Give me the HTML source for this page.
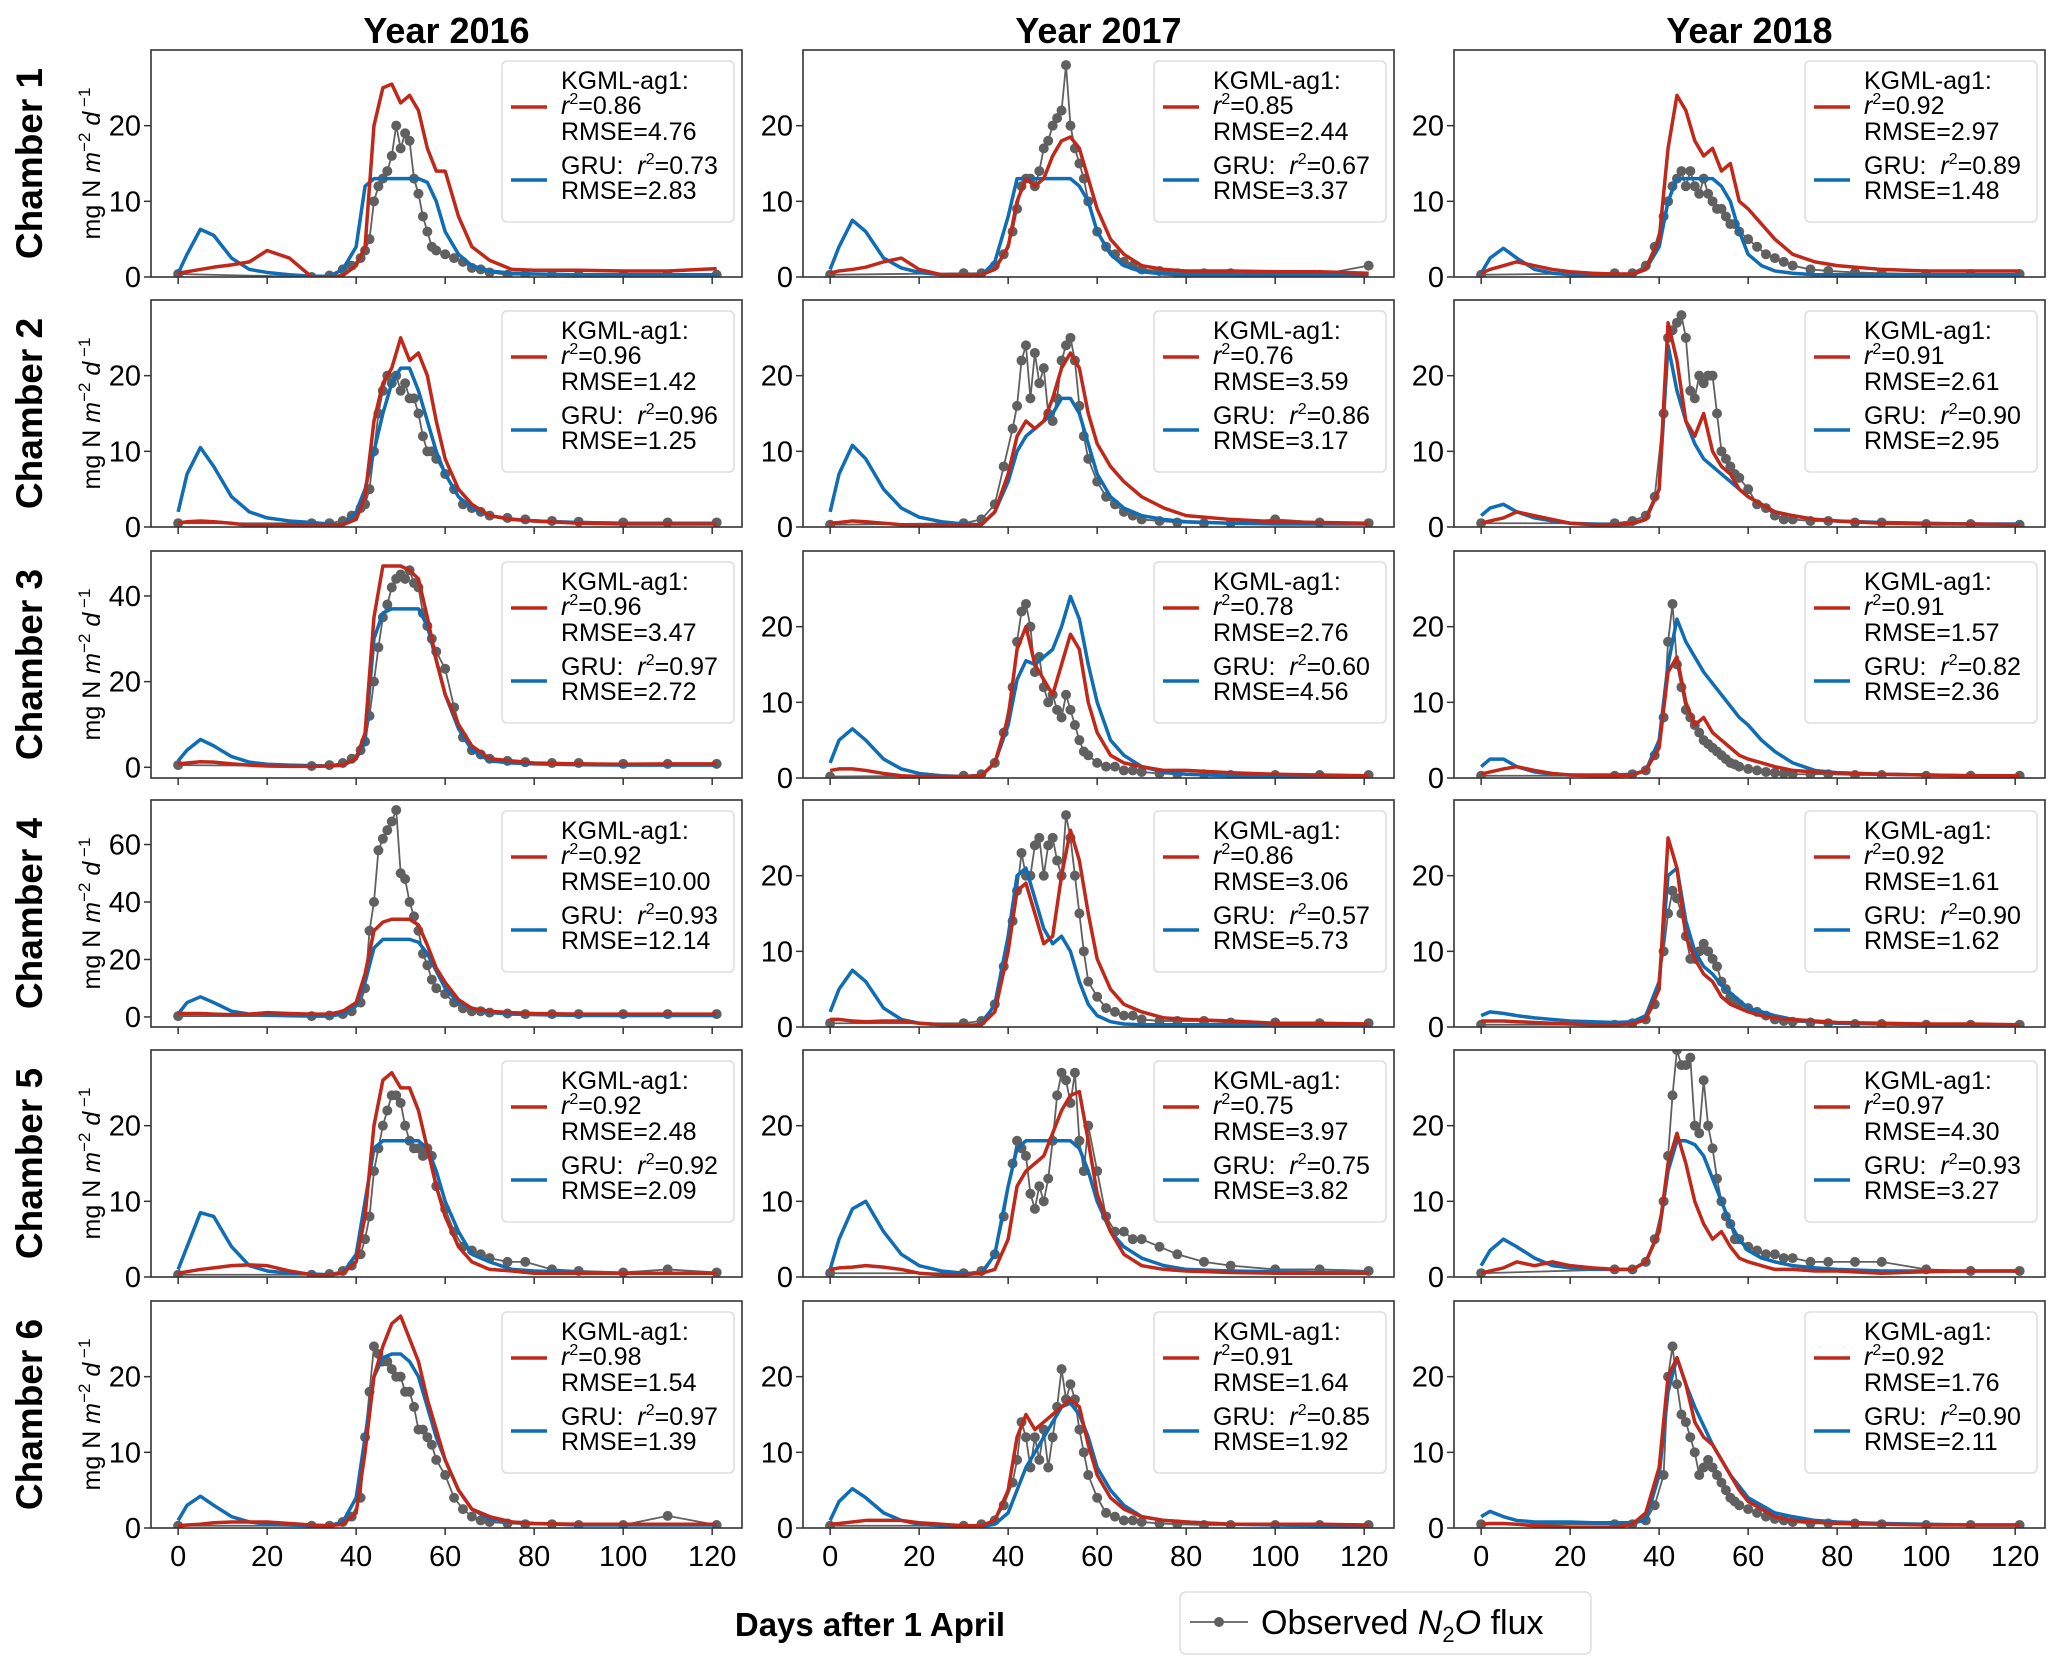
<!DOCTYPE html>
<html><head><meta charset="utf-8">
<style>
html,body{margin:0;padding:0;background:#fff;}
svg{display:block;font-family:"Liberation Sans","DejaVu Sans",sans-serif;}
</style></head>
<body>
<svg id="fig" width="2067" height="1674" viewBox="0 0 2067 1674" xmlns="http://www.w3.org/2000/svg">
<rect width="2067" height="1674" fill="#fff"/>
</svg>
<script>
// ---------- data ----------
const years = ["2016","2017","2018"];
const chambers = ["1","2","3","4","5","6"];
const xTicks = [0,20,40,60,80,100,120];
const modelDays = [0,2,5,8,12,16,20,25,30,34,37,40,42,44,46,48,50,52,54,56,58,60,63,66,70,75,80,90,100,110,121];
const obsDays = [0,30,34,37,39,41,42,43,44,45,46,47,48,49,50,51,52,53,54,55,56,57,58,60,62,64,66,68,70,74,78,84,90,100,110,121];

// Chamber 1
const kgml_c1_2016 = [0.5,0.7,1,1.3,1.6,2,3.5,2.5,0,0,0.2,1.5,4,20,25,25.5,23,24,22,17,14,14,8,4,2.2,1,0.9,0.9,0.8,0.8,1.1];
const gru_c1_2016 = [0.5,3,6.3,5.5,2.5,1,0.6,0.3,0.1,0.1,1,4,12,13,13,13,13,13,13,12.5,10,6,3,1.5,0.8,0.5,0.4,0.3,0.3,0.3,0.3];
const obs_c1_2016 = [0.4,0,0.2,1,1.5,2.5,3.5,5,10,12,13,14,16,20,17,19,18,13,11,8,6,4,3.5,3,2.5,2,1.2,1,0.6,0.3,0.3,0.3,0.3,0.3,0.3,0.3];
const kgml_c1_2017 = [0.5,0.8,1,1.3,2,2.5,1,0.3,0.2,0.3,1,4,10,13,12,13,16,18,18.5,17,13,9,5,3,1.5,1,0.8,0.8,0.7,0.7,0.5];
const gru_c1_2017 = [1,4,7.5,6,2.5,1.2,0.6,0.3,0.2,0.2,2,8,13,13,13,13,13,13,13,12,10,6,3,1.5,0.7,0.4,0.3,0.3,0.3,0.3,0.3];
const obs_c1_2017 = [0.3,0.5,0.5,1.5,3,6,9,12,13,13,12,14,17,18,20,21,22,28,20,17,15,13,10,6,4,3,2,1.5,1,0.8,0.5,0.5,0.5,0.3,0.3,1.5];
const kgml_c1_2018 = [0.5,1,1.5,2,1.5,1,0.7,0.5,0.4,0.4,1,5,17,24,22,18,16,17,14,15,10,9,7,5,3,2,1.5,1,0.8,0.8,0.8];
const gru_c1_2018 = [0.5,2.5,3.8,2.5,1,0.5,0.3,0.2,0.2,0.3,1,4,10,13,13,13,13,13,12,10,6,3,1.5,0.8,0.5,0.3,0.3,0.3,0.3,0.3,0.3];
const obs_c1_2018 = [0.3,0.5,0.5,1.5,4,8,10,12,13,14,12,14,12,11,13,11,10,9,9,8,7,7,6,5,4,3,2.5,2,1.5,1,0.8,0.6,0.5,0.4,0.4,0.4];
// Chamber 2
const kgml_c2_2016 = [0.5,0.7,0.8,0.7,0.5,0.2,0.2,0.3,0.3,0.3,0.3,1,4,14,19,21,25,22,23,20,14,9,5,3,1.5,1,0.8,0.5,0.4,0.4,0.4];
const gru_c2_2016 = [2,7,10.5,8,4,2,1.2,0.8,0.6,0.4,0.2,2,5,10,15,19,21,21,18,14,10,7,4,2.5,1.5,1,0.8,0.6,0.5,0.5,0.5];
const obs_c2_2016 = [0.5,0.5,0.5,0.8,1.5,2.5,3,5,10,15,18,20,19,20,18,19,17,17,15,12,10,10,9,7,5,3,2.5,2,1.5,1.2,1,0.8,0.7,0.6,0.6,0.6];
const kgml_c2_2017 = [0.5,0.6,0.8,0.7,0.5,0.3,0.2,0.2,0.2,0.3,2,7,12,14,13,14,17,21,23,21,15,11,8,6,4,2.5,1.5,1,0.7,0.6,0.5];
const gru_c2_2017 = [2,7,10.8,9,5,2.5,1.3,0.7,0.4,0.3,2,6,10,12,13,14,15,17,17,15,11,7,4,2.5,1.5,1,0.7,0.5,0.4,0.4,0.4];
const obs_c2_2017 = [0.3,0.5,1,3,8,13,16,22,24,17,23,19,21,15,14,17,22,24,25,22,16,12,9,6,4,3,2,1.5,1,0.8,0.6,0.5,0.5,1,0.6,0.5];
const kgml_c2_2018 = [0.5,0.8,1.2,2,1.5,1,0.5,0.3,0.3,0.5,1,5,27,22,14,12,15,10,8,7,5,4,3,2,1.5,1,0.8,0.5,0.4,0.4,0.3];
const gru_c2_2018 = [1.5,2.5,3,2,1.2,0.8,0.5,0.4,0.3,0.4,1,5,24,18,14,11,9,8,7,6,5,4,3,2,1.5,1,0.8,0.6,0.5,0.4,0.4];
const obs_c2_2018 = [0.5,0.5,0.8,1.5,4,15,25,26,27,28,25,18,17,20,19,20,20,15,10,9,8,7,6.5,5,3,2.5,1.5,1,1,0.8,0.8,0.6,0.6,0.4,0.4,0.3];
// Chamber 3
const kgml_c3_2016 = [0.8,1,1.3,1.2,0.8,0.5,0.3,0.2,0.2,0.3,0.5,2,8,35,47,47,47,46,44,35,25,17,10,5,2,1.5,1,0.8,0.7,0.8,0.8];
const gru_c3_2016 = [1.5,4,6.5,5,2.5,1.2,0.7,0.5,0.4,0.3,0.5,2,6,30,36,37,37,37,37,33,25,17,9,4,1.5,1,0.8,0.6,0.5,0.5,0.5];
const obs_c3_2016 = [0.5,0.3,0.5,1,2,4,6,12,20,28,35,38,42,44,45,44,46,43,42,36,33,30,27,23,14,7,4,3,2,1.5,1.2,1,1,0.8,0.8,0.8];
const kgml_c3_2017 = [1,1.2,1.2,1,0.6,0.3,0.2,0.2,0.2,0.3,2,8,17,20,15,13,11,15,19,17,10,6,3,2,1.5,1,1,0.7,0.5,0.4,0.3];
const gru_c3_2017 = [2,5,6.5,5,2.5,1.2,0.6,0.3,0.2,0.3,2,7,13,15.5,15,16,17,20,24,21,15,10,5,3,1.5,0.8,0.5,0.3,0.3,0.3,0.3];
const obs_c3_2017 = [0.2,0.3,0.5,2,6,12,18,22,23,20,14,16,12,10,11,9,8,11,9,7,5,3.5,3,2,1.5,1.5,1,1,0.8,0.6,0.5,0.5,0.4,0.4,0.4,0.4];
const kgml_c3_2018 = [0.5,0.8,1.2,1.5,1,0.6,0.4,0.3,0.3,0.4,1,4,14,16,10,7,8,6,5,4,3,2.5,2,1.5,1,0.8,0.7,0.5,0.4,0.3,0.3];
const gru_c3_2018 = [1.5,2.5,2.5,1.5,0.8,0.5,0.4,0.4,0.4,0.5,1,5,15,21,18,16,14,12.5,11,9.5,8,7,5,3.5,2,1,0.7,0.5,0.4,0.3,0.3];
const obs_c3_2018 = [0.3,0.3,0.5,1,3,8,18,23,15,12,9,8,7,6,5,4.5,4,3.5,3,2.5,2,1.8,1.5,1.2,1,0.8,0.7,0.6,0.5,0.5,0.5,0.4,0.4,0.3,0.3,0.3];
// Chamber 4
const kgml_c4_2016 = [1.2,1.2,1.2,1,0.8,1,1.5,1.2,1,1,2,5,15,30,33,34,34,34,32,25,17,12,6,3,2,1.5,1.2,1,1,1,1];
const gru_c4_2016 = [1,5,7,5,2,1,0.6,0.4,0.3,0.3,1,4,12,24,27,27,27,27,26,22,16,10,5,3,1.5,1,0.8,0.5,0.5,0.5,0.5];
const obs_c4_2016 = [0.3,0.3,0.5,1,2,5,10,30,40,58,62,65,68,72,50,48,40,35,30,22,18,13,10,8,5,3,2,2,1.5,1.2,1,1,1,1,1,1];
const kgml_c4_2017 = [1,1,0.8,0.7,0.8,0.8,0.5,0.3,0.2,0.3,2,10,18,19,15,11,12,20,26,22,15,9,5,3,2,1.2,1,0.8,0.5,0.5,0.4];
const gru_c4_2017 = [2,5,7.5,6,2.5,1,0.5,0.3,0.2,0.3,3,12,20,21,17,13,11,12,10,6,3,1.5,0.7,0.4,0.3,0.3,0.3,0.3,0.3,0.3,0.3];
const obs_c4_2017 = [0.5,0.5,0.8,3,8,14,18,23,20,20,24,25,20,24,25,22,20,28,25,20,15,10,6,4,2.5,2,1.5,1.5,1,0.8,0.8,0.8,0.6,0.6,0.5,0.5];
const kgml_c4_2018 = [0.8,0.8,0.8,0.7,0.6,0.5,0.4,0.3,0.3,0.4,1,5,25,21,12,9,7,6,4,3,2.5,2,1.5,1.2,1,0.8,0.6,0.5,0.4,0.4,0.3];
const gru_c4_2018 = [1.5,2,1.8,1.5,1.2,1,0.8,0.7,0.6,0.7,1.5,6,20,21,14,10,8,7,5.5,4.5,3.5,2.5,2,1.5,1,0.7,0.5,0.4,0.3,0.3,0.3];
const obs_c4_2018 = [0.3,0.3,0.5,1,3,10,15,18,17,15,12,9,9,10,11,10,9,8,6,5,4,3.5,3,2.5,2,1.5,1,0.8,0.7,0.6,0.5,0.4,0.4,0.3,0.3,0.3];
// Chamber 5
const kgml_c5_2016 = [0.5,0.7,1,1.2,1.5,1.6,1.5,0.8,0.3,0.3,0.5,2,8,20,26,27,25,25,22,17,12,8,4,2,1,0.8,0.5,0.5,0.5,0.5,0.5];
const gru_c5_2016 = [1,4,8.5,8,4,1.5,0.8,0.5,0.4,0.3,0.5,3,10,17,18,18,18,18,18,17,14,10,6,3,2,1,0.8,0.6,0.5,0.5,0.5];
const obs_c5_2016 = [0.3,0.3,0.4,0.8,1.5,3,5,8,14,17,20,22,24,24,23,20,18,17,17,16,17,16,12,9,6,4,3.5,3,2.5,2,2,1,0.8,0.6,1,0.6];
const kgml_c5_2017 = [1,1.2,1.3,1.5,1.3,1,0.5,0.3,0.3,0.5,1,5,12,14,15,16,19,22,24,24.5,18,11,6,3,1.5,1,0.8,0.6,0.5,0.5,0.5];
const gru_c5_2017 = [1,5,9,10,6,3,1.5,0.8,0.5,0.4,3,12,17,18,18,18,18,18,18,17,14,10,6,4,2.5,1.5,1,0.8,0.7,0.6,0.6];
const obs_c5_2017 = [0.5,0.5,0.8,3,8,15,18,17,16,11,9,12,10,13,18,24,27,26,23,27,18,14,20,14,8,6,6,5,5,4,3,2,1.5,1,1,0.8];
const kgml_c5_2018 = [0.5,0.8,1.2,2,1.5,2,1.5,1.2,1,1,2,6,15,19,15,10,7,5,6,4,2.5,2,1.5,1,1,0.8,0.8,0.5,0.7,0.8,0.8];
const gru_c5_2018 = [1.5,3.5,5,4,2.5,1.5,1.2,1,1,1,2,6,14,18,18,17.5,16,13,10,7,5,3.5,2.5,2,1.5,1.2,1,0.8,0.8,0.8,0.8];
const obs_c5_2018 = [0.5,1,1,2,5,10,16,24,30,28,28,29,20,19,26,20,17,13,10,8,7,5,5,4,3.5,3,3,2.5,2.5,2,2,2,2,1,0.8,0.8];
// Chamber 6
const kgml_c6_2016 = [0.3,0.4,0.5,0.7,0.8,0.8,0.8,0.6,0.4,0.3,0.5,2,10,20,24,27,28,25,22,17,13,9,5,2.5,1.5,0.8,0.6,0.5,0.5,0.5,0.5];
const gru_c6_2016 = [1,3,4.2,3,1.5,0.8,0.5,0.4,0.3,0.3,0.8,4,12,20,22.5,23,23,22,20,16,12,9,5,2.5,1.2,0.8,0.6,0.4,0.4,0.4,0.4];
const obs_c6_2016 = [0.3,0.3,0.3,0.8,1.5,4,12,18,24,23,22,22,21,20,20,18,18,16,13,13,12,11,9,7,4,2.5,1.5,1,0.8,0.6,0.5,0.5,0.4,0.4,1.6,0.4];
const kgml_c6_2017 = [0.5,0.6,0.8,1,1,1,0.7,0.5,0.3,0.3,1,5,12,15,13,14,15,16,17,16,11,7,4,2.5,1.5,1,0.8,0.5,0.5,0.5,0.4];
const gru_c6_2017 = [1,3.5,5.2,4,2,1,0.5,0.3,0.2,0.2,0.5,2,5,8,10,12,14,16,16.5,15,12,8,5,3,1.5,1,0.8,0.5,0.4,0.3,0.3];
const obs_c6_2017 = [0.3,0.3,0.5,1,3,6,9,14,12,8,12,9,13,8,12,16,21,17,19,17,13,10,7,4,2,1.5,1,1,0.8,0.6,0.5,0.4,0.4,0.4,0.4,0.4];
const kgml_c6_2018 = [0.5,0.6,0.6,0.5,0.3,0.2,0.1,0.1,0.1,0.5,2,8,20,22.5,19,14,12,11,9,7,5,3.5,2.5,1.5,1,0.8,0.6,0.5,0.4,0.4,0.4];
const gru_c6_2018 = [1.5,2.2,1.5,1,0.8,0.8,0.8,0.7,0.7,0.7,1,7,18,22.5,19,16,13.5,11,9,7,5.5,4,3,2,1.5,1,0.8,0.6,0.5,0.4,0.4];
const obs_c6_2018 = [0.5,0.5,0.5,1,3,7,20,24,19,15,14,12,10,7,8,9,8,7,6,5,4,3.5,3,2.5,2,1.5,1.2,1,0.8,0.6,0.6,0.6,0.5,0.4,0.4,0.4];

// legend stats
const kgmlR2 = [["0.86","0.85","0.92"],["0.96","0.76","0.91"],["0.96","0.78","0.91"],["0.92","0.86","0.92"],["0.92","0.75","0.97"],["0.98","0.91","0.92"]];
const kgmlRMSE = [["4.76","2.44","2.97"],["1.42","3.59","2.61"],["3.47","2.76","1.57"],["10.00","3.06","1.61"],["2.48","3.97","4.30"],["1.54","1.64","1.76"]];
const gruR2 = [["0.73","0.67","0.89"],["0.96","0.86","0.90"],["0.97","0.60","0.82"],["0.93","0.57","0.90"],["0.92","0.75","0.93"],["0.97","0.85","0.90"]];
const gruRMSE = [["2.83","3.37","1.48"],["1.25","3.17","2.95"],["2.72","4.56","2.36"],["12.14","5.73","1.62"],["2.09","3.82","3.27"],["1.39","1.92","2.11"]];
// y-limits and ticks
const yMin = [[0,0,0],[0,0,0],[-2.5,0,0],[-3.5,0,0],[0,0,0],[0,0,0]];
const yMax = [[30,30,30],[30,30,30],[50.5,30,30],[75.5,30,30],[30,30,30],[30,30,30]];
const yTicks = [[[0,10,20],[0,10,20],[0,10,20]],[[0,10,20],[0,10,20],[0,10,20]],[[0,20,40],[0,10,20],[0,10,20]],[[0,20,40,60],[0,10,20],[0,10,20]],[[0,10,20],[0,10,20],[0,10,20]],[[0,10,20],[0,10,20],[0,10,20]]];

const series = {
 kgml:[[kgml_c1_2016,kgml_c1_2017,kgml_c1_2018],[kgml_c2_2016,kgml_c2_2017,kgml_c2_2018],[kgml_c3_2016,kgml_c3_2017,kgml_c3_2018],[kgml_c4_2016,kgml_c4_2017,kgml_c4_2018],[kgml_c5_2016,kgml_c5_2017,kgml_c5_2018],[kgml_c6_2016,kgml_c6_2017,kgml_c6_2018]],
 gru:[[gru_c1_2016,gru_c1_2017,gru_c1_2018],[gru_c2_2016,gru_c2_2017,gru_c2_2018],[gru_c3_2016,gru_c3_2017,gru_c3_2018],[gru_c4_2016,gru_c4_2017,gru_c4_2018],[gru_c5_2016,gru_c5_2017,gru_c5_2018],[gru_c6_2016,gru_c6_2017,gru_c6_2018]],
 obs:[[obs_c1_2016,obs_c1_2017,obs_c1_2018],[obs_c2_2016,obs_c2_2017,obs_c2_2018],[obs_c3_2016,obs_c3_2017,obs_c3_2018],[obs_c4_2016,obs_c4_2017,obs_c4_2018],[obs_c5_2016,obs_c5_2017,obs_c5_2018],[obs_c6_2016,obs_c6_2017,obs_c6_2018]]
};

// ---------- layout ----------
const NS = "http://www.w3.org/2000/svg";
const svg = document.getElementById("fig");
const colLeft = [151, 803, 1454];
const rowTop = [50, 300, 551, 800, 1050, 1301];
const PW = 591, PH = 227;
const XMIN = -6.1, XMAX = 126.7;
const RED = "#c0281a", BLUE = "#0f6db5", GRAY = "#606060";

function mk(tag, attrs, parent){
  const e = document.createElementNS(NS, tag);
  for (const k in attrs) e.setAttribute(k, attrs[k]);
  (parent||svg).appendChild(e);
  return e;
}
function xScale(c, d){ return colLeft[c] + (d - XMIN) / (XMAX - XMIN) * PW; }
function yScale(r, c, v){ return rowTop[r] + PH * (yMax[r][c] - v) / (yMax[r][c] - yMin[r][c]); }

years.forEach((y, c) => {
  const t = mk("text", {x: colLeft[c] + PW/2, y: 43, "text-anchor":"middle", "font-size":36, "font-weight":"bold"});
  
  
  t.textContent = "Year " + y;
});

for (let r = 0; r < 6; r++) {
  const cy = rowTop[r] + PH/2;
  const cl = mk("text", {x: 0, y: 0, transform: `translate(42 ${cy}) rotate(-90)`, "text-anchor":"middle", "font-size":37, "font-weight":"bold"});
  
  
  cl.textContent = "Chamber " + chambers[r];
  const yl = mk("text", {x: 0, y: 0, transform: `translate(100 ${cy}) rotate(-90)`, "text-anchor":"middle", "font-size":25});
  
  
  yl.innerHTML = 'mg N <tspan font-style="italic">m</tspan><tspan dy="-10" font-size="17">−2</tspan><tspan dy="10"> </tspan><tspan font-style="italic">d</tspan><tspan dy="-10" font-size="17"> −1</tspan>';

  for (let c = 0; c < 3; c++) {
    const L = colLeft[c], T = rowTop[r];
    const g = mk("g", {});
    
    
    const clipId = "clip" + r + c;
    const cp = mk("clipPath", {id: clipId}, g);
    mk("rect", {x: L, y: T, width: PW, height: PH}, cp);

    xTicks.forEach(d => {
      const x = xScale(c, d);
      const tk = mk("line", {x1: x, x2: x, y1: T+PH, y2: T+PH+7, stroke:"#333", "stroke-width":1.5}, g);
      
      
      if (r === 5) {
        const tl = mk("text", {x: x, y: T+PH+38, "text-anchor":"middle", "font-size":29}, g);
        
        
        tl.textContent = d;
      }
    });
    yTicks[r][c].forEach(v => {
      const y = yScale(r, c, v);
      const tk = mk("line", {x1: L-7, x2: L, y1: y, y2: y, stroke:"#333", "stroke-width":1.5}, g);
      
      
      const tl = mk("text", {x: L-10, y: y+10, "text-anchor":"end", "font-size":29}, g);
      
      
      tl.textContent = v;
    });

    const plot = mk("g", {"clip-path": `url(#${clipId})`}, g);
    const ov = series.obs[r][c];
    const op = mk("polyline", {points: obsDays.map((d,i)=>xScale(c,d)+","+yScale(r,c,ov[i])).join(" "), fill:"none", stroke:GRAY, "stroke-width":1.8}, plot);
    
    
    obsDays.forEach((d,i) => {
      const p = mk("circle", {cx: xScale(c,d), cy: yScale(r,c,ov[i]), r: 5, fill:GRAY}, plot);
      
      
    });
    const gv = series.gru[r][c];
    const gl = mk("polyline", {points: modelDays.map((d,i)=>xScale(c,d)+","+yScale(r,c,gv[i])).join(" "), fill:"none", stroke:BLUE, "stroke-width":3.5, "stroke-linejoin":"round"}, plot);
    
    
    const kv = series.kgml[r][c];
    const kl = mk("polyline", {points: modelDays.map((d,i)=>xScale(c,d)+","+yScale(r,c,kv[i])).join(" "), fill:"none", stroke:RED, "stroke-width":3.5, "stroke-linejoin":"round"}, plot);
    
    

    const fr = mk("rect", {x: L, y: T, width: PW, height: PH, fill:"none", stroke:"#333", "stroke-width":1.6}, g);
    
    

    const lg = mk("g", {}, g);
    
    
    mk("rect", {x: L+351, y: T+11, width: 232, height: 161, rx: 5, fill:"#fff", "fill-opacity":0.85, stroke:"#ddd", "stroke-width":1.5}, lg);
    const h1 = mk("line", {x1: L+360, x2: L+396, y1: T+57, y2: T+57, stroke:RED, "stroke-width":3.5}, lg);
    
    
    const h2 = mk("line", {x1: L+360, x2: L+396, y1: T+130, y2: T+130, stroke:BLUE, "stroke-width":3.5}, lg);
    
    
    const tx = L + 410;
    const lines = [
      [T+39, 'KGML-ag1:'],
      [T+64, '<tspan font-style="italic">r</tspan><tspan dy="-10" font-size="16">2</tspan><tspan dy="10">=' + kgmlR2[r][c] + '</tspan>'],
      [T+90, 'RMSE=' + kgmlRMSE[r][c]],
      [T+124, 'GRU:&#160;&#160;<tspan font-style="italic">r</tspan><tspan dy="-10" font-size="16">2</tspan><tspan dy="10">=' + gruR2[r][c] + '</tspan>'],
      [T+149, 'RMSE=' + gruRMSE[r][c]]
    ];
    lines.forEach(([y, html]) => {
      const t = mk("text", {x: tx, y: y, "font-size":25}, lg);
      
      
      t.innerHTML = html;
    });
  }
}

const xt = mk("text", {x: 870, y: 1636, "text-anchor":"middle", "font-size":33, "font-weight":"bold"});


xt.textContent = "Days after 1 April";

const ol = mk("g", {});


mk("rect", {x: 1180, y: 1592, width: 411, height: 62, rx: 6, fill:"#fff", stroke:"#ddd", "stroke-width":1.5}, ol);
mk("line", {x1: 1190, x2: 1248, y1: 1622, y2: 1622, stroke:GRAY, "stroke-width":1.8}, ol);
mk("circle", {cx: 1219, cy: 1622, r: 5, fill:GRAY}, ol);
const otx = mk("text", {x: 1261, y: 1634, "font-size":34}, ol);


otx.innerHTML = 'Observed <tspan font-style="italic">N</tspan><tspan dy="8" font-size="22">2</tspan><tspan dy="-8" font-style="italic">O</tspan> flux';
</script>
</body></html>
